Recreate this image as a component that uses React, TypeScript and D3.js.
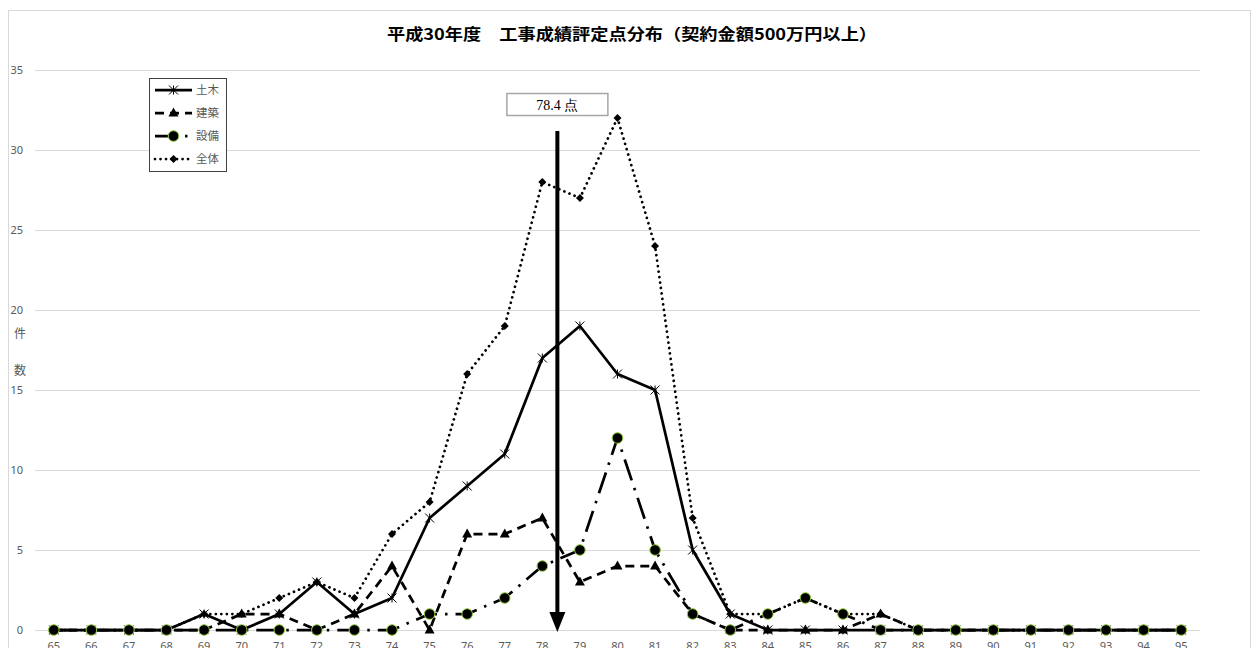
import React from "react";
import * as d3 from "d3";

const categories = [65, 66, 67, 68, 69, 70, 71, 72, 73, 74, 75, 76, 77, 78, 79, 80, 81, 82, 83, 84, 85, 86, 87, 88, 89, 90, 91, 92, 93, 94, 95];
const civil = [0, 0, 0, 0, 1, 0, 1, 3, 1, 2, 7, 9, 11, 17, 19, 16, 15, 5, 1, 0, 0, 0, 0, 0, 0, 0, 0, 0, 0, 0, 0];
const building = [0, 0, 0, 0, 0, 1, 1, 0, 1, 4, 0, 6, 6, 7, 3, 4, 4, 1, 0, 0, 0, 0, 1, 0, 0, 0, 0, 0, 0, 0, 0];
const equipment = [0, 0, 0, 0, 0, 0, 0, 0, 0, 0, 1, 1, 2, 4, 5, 12, 5, 1, 0, 1, 2, 1, 0, 0, 0, 0, 0, 0, 0, 0, 0];
const total = [0, 0, 0, 0, 1, 1, 2, 3, 2, 6, 8, 16, 19, 28, 27, 32, 24, 7, 1, 1, 2, 1, 1, 0, 0, 0, 0, 0, 0, 0, 0];
const yTicks = [0, 5, 10, 15, 20, 25, 30, 35];
const seriesNames = ["土木", "建築", "設備", "全体"];
const meanScore = 78.4;
const meanLabel = "78.4 点";
const title = "平成30年度　工事成績評定点分布（契約金額500万円以上）";
const yTitle = ["件", "数"];

const W = 1252;
const H = 648;
const x = d3.scaleLinear().domain([64.5, 95.5]).range([35, 1200]);
const y = d3.scaleLinear().domain([0, 35]).range([630, 70]);

const GREEN = "#92c83e";
const GRAY = "#595959";

type Style = { dash: string; width: number; cap: "butt" | "round" };
const styles: Style[] = [
  { dash: "none", width: 2.75, cap: "butt" },
  { dash: "9,6", width: 2.75, cap: "butt" },
  { dash: "22,8,2.5,8", width: 2.75, cap: "butt" },
  { dash: "0.01,5.5", width: 2.75, cap: "round" },
];

function Marker({ kind, cx, cy }: { kind: number; cx: number; cy: number }) {
  if (kind === 0) {
    const s = 4.5;
    return (
      <path
        d={`M${cx - s},${cy - s}L${cx + s},${cy + s}M${cx - s},${cy + s}L${cx + s},${cy - s}M${cx},${cy - s}L${cx},${cy + s}`}
        stroke="#000"
        strokeWidth={1}
        fill="none"
      />
    );
  }
  if (kind === 1) {
    return <path d={`M${cx},${cy - 5.5}L${cx + 5},${cy + 3.5}L${cx - 5},${cy + 3.5}Z`} fill="#000" />;
  }
  if (kind === 2) {
    return <circle cx={cx} cy={cy} r={5.3} fill="#000" stroke={GREEN} strokeWidth={1} />;
  }
  return <path d={`M${cx},${cy - 4}L${cx + 4},${cy}L${cx},${cy + 4}L${cx - 4},${cy}Z`} fill="#000" />;
}

export default function App() {
  const allSeries = [civil, building, equipment, total];
  const line = d3
    .line<number>()
    .x((_, i) => x(categories[i]))
    .y((d) => y(d));
  const mx = x(meanScore);

  return (
    <div style={{ position: "fixed", left: 0, top: 0, width: W, height: H, background: "#fff" }}>
      <svg width={W} height={H} style={{ display: "block" }}>
        <rect x={0} y={0} width={W} height={H} fill="#fff" />
        <rect x={8.5} y={10.5} width={1242} height={700} fill="none" stroke="#d9d9d9" strokeWidth={1} />
        <text
          x={632}
          y={40}
          textAnchor="middle"
          fontFamily="'Noto Sans CJK JP', sans-serif"
          fontWeight={700}
          fontSize={16}
          textLength={490}
          lengthAdjust="spacingAndGlyphs"
          fill="#000"
        >
          {title}
        </text>
        {yTicks.map((t) => (
          <g key={t}>
            <line x1={35} x2={1200} y1={y(t) + 0.5} y2={y(t) + 0.5} stroke="#d9d9d9" strokeWidth={1} />
            <text x={23} y={y(t) + 4} textAnchor="end" fontFamily="'Noto Sans', sans-serif" fontSize={11} fill={GRAY}>
              {t}
            </text>
          </g>
        ))}
        {yTitle.map((c, i) => (
          <text
            key={c}
            x={20}
            y={338 + i * 37}
            textAnchor="middle"
            fontFamily="'Noto Sans CJK JP', sans-serif"
            fontSize={12}
            fill={GRAY}
          >
            {c}
          </text>
        ))}
        {categories.map((c) => (
          <text key={c} x={x(c)} y={650} textAnchor="middle" fontFamily="'Noto Sans', sans-serif" fontSize={11} fill={GRAY}>
            {c}
          </text>
        ))}
        {allSeries.map((s, k) => (
          <path
            key={k}
            d={line(s) || ""}
            fill="none"
            stroke="#000"
            strokeWidth={styles[k].width}
            strokeDasharray={styles[k].dash}
            strokeLinecap={styles[k].cap}
            strokeLinejoin="round"
          />
        ))}
        {allSeries.map((s, k) => (
          <g key={k}>
            {s.map((v, i) => (
              <Marker key={i} kind={k} cx={x(categories[i])} cy={y(v)} />
            ))}
          </g>
        ))}
        {/* mean arrow */}
        <line x1={mx} x2={mx} y1={131} y2={614} stroke="#000" strokeWidth={4} />
        <path d={`M${mx - 8},${612}L${mx + 8},${612}L${mx},${632}Z`} fill="#000" />
        <rect x={mx - 50.5} y={93.5} width={101} height={22} fill="#fff" stroke="#a6a6a6" strokeWidth={1.5} />
        <text
          x={mx}
          y={110}
          textAnchor="middle"
          fontFamily="'Liberation Serif', 'DejaVu Serif', serif"
          fontSize={14}
          fill="#000"
        >
          {meanLabel}
        </text>
        {/* legend */}
        <rect x={149.5} y={78.5} width={77} height={93} fill="#fff" stroke="#404040" strokeWidth={1} />
        {seriesNames.map((n, k) => {
          const ly = 90 + k * 23;
          return (
            <g key={n}>
              <line
                x1={155}
                x2={192}
                y1={ly}
                y2={ly}
                stroke="#000"
                strokeWidth={styles[k].width}
                strokeDasharray={styles[k].dash}
                strokeLinecap={styles[k].cap}
              />
              <Marker kind={k} cx={173.5} cy={ly} />
              <text x={196} y={ly + 4} fontFamily="'Noto Sans CJK JP', sans-serif" fontSize={11.5} fill={GRAY}>
                {n}
              </text>
            </g>
          );
        })}
      </svg>
    </div>
  );
}
